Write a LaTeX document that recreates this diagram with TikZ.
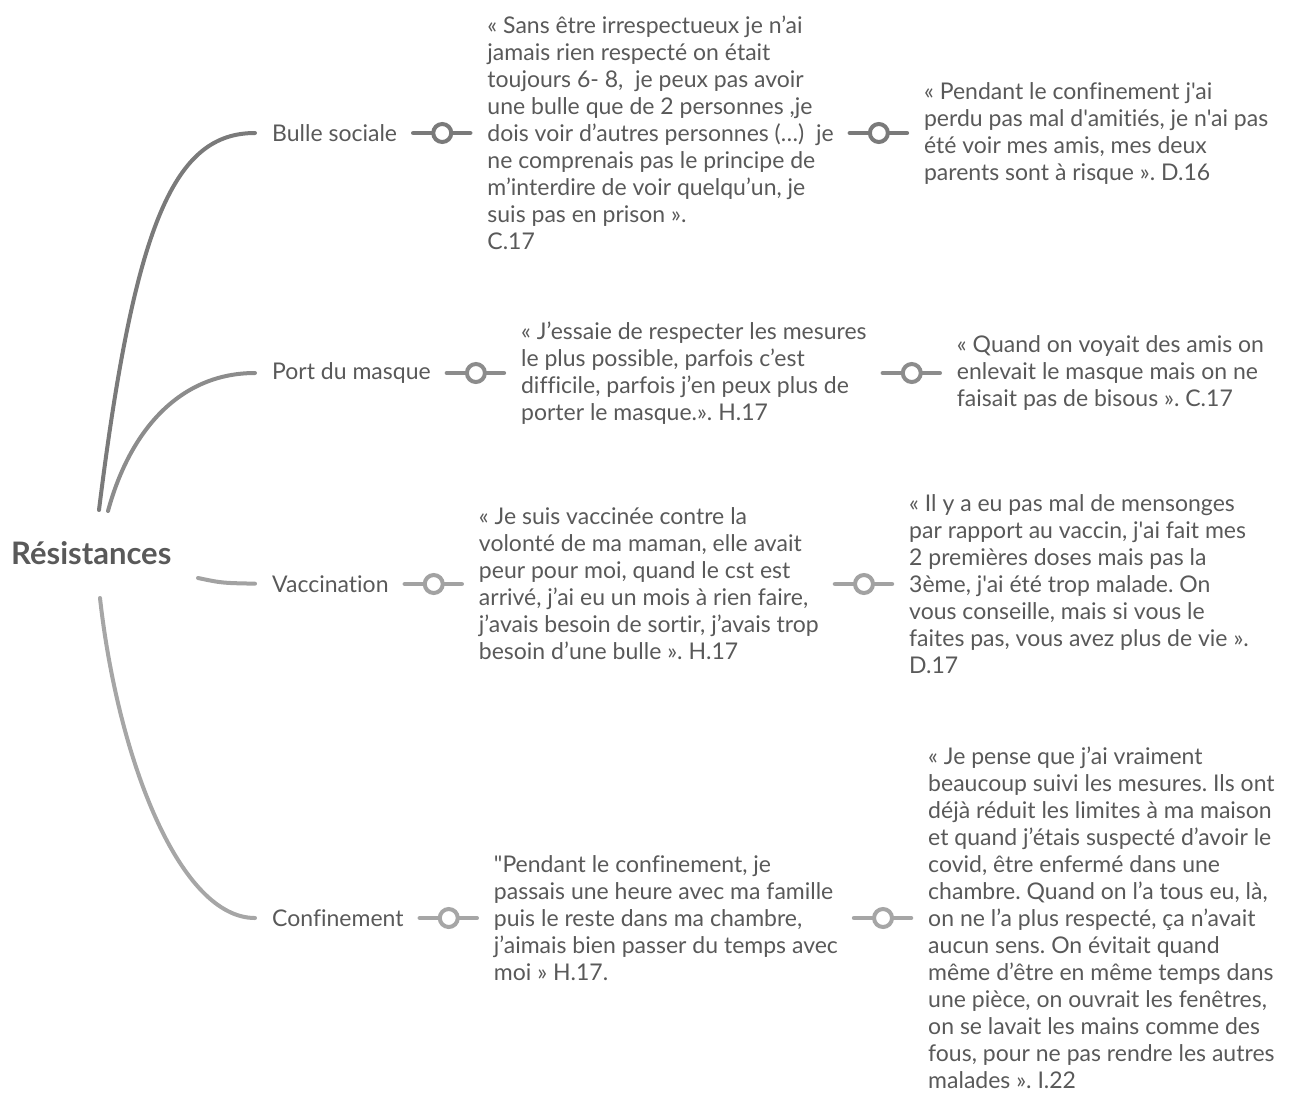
\documentclass[tikz,border=0pt]{standalone}
\usepackage{fontspec}
\usepackage{xcolor}
\newfontfamily\mapfont{Lato}[Ligatures=NoCommon]
\usetikzlibrary{positioning}
\frenchspacing

\definecolor{txt}{HTML}{595959}
\definecolor{lvlA}{HTML}{7A7A7A}
\definecolor{lvlB}{HTML}{8C8C8C}
\definecolor{lvlC}{HTML}{A2A2A2}
\definecolor{lvlD}{HTML}{A6A6A6}

\begin{document}
\begin{tikzpicture}[x=1pt, y=-1pt, node distance=90pt,
    topic/.style={font=\mapfont\fontsize{23}{27}\selectfont, text=txt, inner sep=0pt, anchor=west},
    quote/.style={topic, align=left},
    root/.style={font=\mapfont\bfseries\fontsize{31}{36}\selectfont, text=txt, inner sep=0pt, anchor=west},
    branch/.style={line width=4pt, line cap=round, shorten >=17pt},
    link/.style={line width=4.5pt, line cap=round, shorten <=16pt, shorten >=17pt},
    ring/.style={circle, draw, fill=white, line width=4pt, minimum size=18pt, inner sep=0pt}]

    \useasboundingbox (0,0) rectangle (1305,1093);

    % centre
    \node[root] (root) at (11,553) {Résistances};
    \coordinate (s1) at (99,510);
    \coordinate (s2) at (108,511);
    \coordinate (s3) at (198,578);
    \coordinate (s4) at (100,598);

    % topics
    \node[topic] (bulle) at (272,133) {Bulle sociale};
    \node[topic] (masque) at (272,373) {Port du masque};
    \node[topic] (vaccin) at (272,584) {Vaccination};
    \node[topic] (confin) at (272,918) {Confinement};

    % quotes
    \node[quote, right=of bulle] (bulleA) {« Sans être irrespectueux je n’ai\\
        jamais rien respecté on était\\
        toujours 6- 8,\ \ je peux pas avoir\\
        une bulle que de 2 personnes ,je\\
        dois voir d’autres personnes (…)\ \ je\\
        ne comprenais pas le principe de\\
        m’interdire de voir quelqu’un, je\\
        suis pas en prison ».\\
        C.17};
    \node[quote, right=of bulleA] (bulleB) {« Pendant le confinement j'ai\\
        perdu pas mal d'amitiés, je n'ai pas\\
        été voir mes amis, mes deux\\
        parents sont à risque ». D.16};

    \node[quote, right=of masque] (masqueA) {« J’essaie de respecter les mesures\\
        le plus possible, parfois c’est\\
        difficile, parfois j’en peux plus de\\
        porter le masque.». H.17};
    \node[quote, right=of masqueA] (masqueB) {« Quand on voyait des amis on\\
        enlevait le masque mais on ne\\
        faisait pas de bisous ». C.17};

    \node[quote, right=of vaccin] (vaccinA) {« Je suis vaccinée contre la\\
        volonté de ma maman, elle avait\\
        peur pour moi, quand le cst est\\
        arrivé, j’ai eu un mois à rien faire,\\
        j’avais besoin de sortir, j’avais trop\\
        besoin d’une bulle ». H.17};
    \node[quote, right=of vaccinA] (vaccinB) {« Il y a eu pas mal de mensonges\\
        par rapport au vaccin, j'ai fait mes\\
        2 premières doses mais pas la\\
        3ème, j'ai été trop malade. On\\
        vous conseille, mais si vous le\\
        faites pas, vous avez plus de vie ».\\
        D.17};

    \node[quote, right=of confin] (confinA) {"Pendant le confinement, je\\
        passais une heure avec ma famille\\
        puis le reste dans ma chambre,\\
        j’aimais bien passer du temps avec\\
        moi » H.17.};
    \node[quote, right=of confinA] (confinB) {« Je pense que j’ai vraiment\\
        beaucoup suivi les mesures. Ils ont\\
        déjà réduit les limites à ma maison\\
        et quand j’étais suspecté d’avoir le\\
        covid, être enfermé dans une\\
        chambre. Quand on l’a tous eu, là,\\
        on ne l’a plus respecté, ça n’avait\\
        aucun sens. On évitait quand\\
        même d’être en même temps dans\\
        une pièce, on ouvrait les fenêtres,\\
        on se lavait les mains comme des\\
        fous, pour ne pas rendre les autres\\
        malades ». I.22};

    % branches
    \draw[branch, lvlA] (s1) .. controls (135,220) and (175,133) .. (bulle.west);
    \draw[branch, lvlB] (s2) .. controls (130,430) and (180,373) .. (masque.west);
    \draw[branch, lvlC] (s3) .. controls (222,583) .. (vaccin.west);
    \draw[branch, lvlD] (s4) .. controls (118,760) and (180,918) .. (confin.west);

    % links
    \draw[link, lvlA] (bulle.east) -- (bulleA.west) node[ring, midway] {};
    \draw[link, lvlA] (bulleA.east) -- (bulleB.west) node[ring, midway] {};
    \draw[link, lvlB] (masque.east) -- (masqueA.west) node[ring, midway] {};
    \draw[link, lvlB] (masqueA.east) -- (masqueB.west) node[ring, midway] {};
    \draw[link, lvlC] (vaccin.east) -- (vaccinA.west) node[ring, midway] {};
    \draw[link, lvlC] (vaccinA.east) -- (vaccinB.west) node[ring, midway] {};
    \draw[link, lvlD] (confin.east) -- (confinA.west) node[ring, midway] {};
    \draw[link, lvlD] (confinA.east) -- (confinB.west) node[ring, midway] {};
\end{tikzpicture}
\end{document}
